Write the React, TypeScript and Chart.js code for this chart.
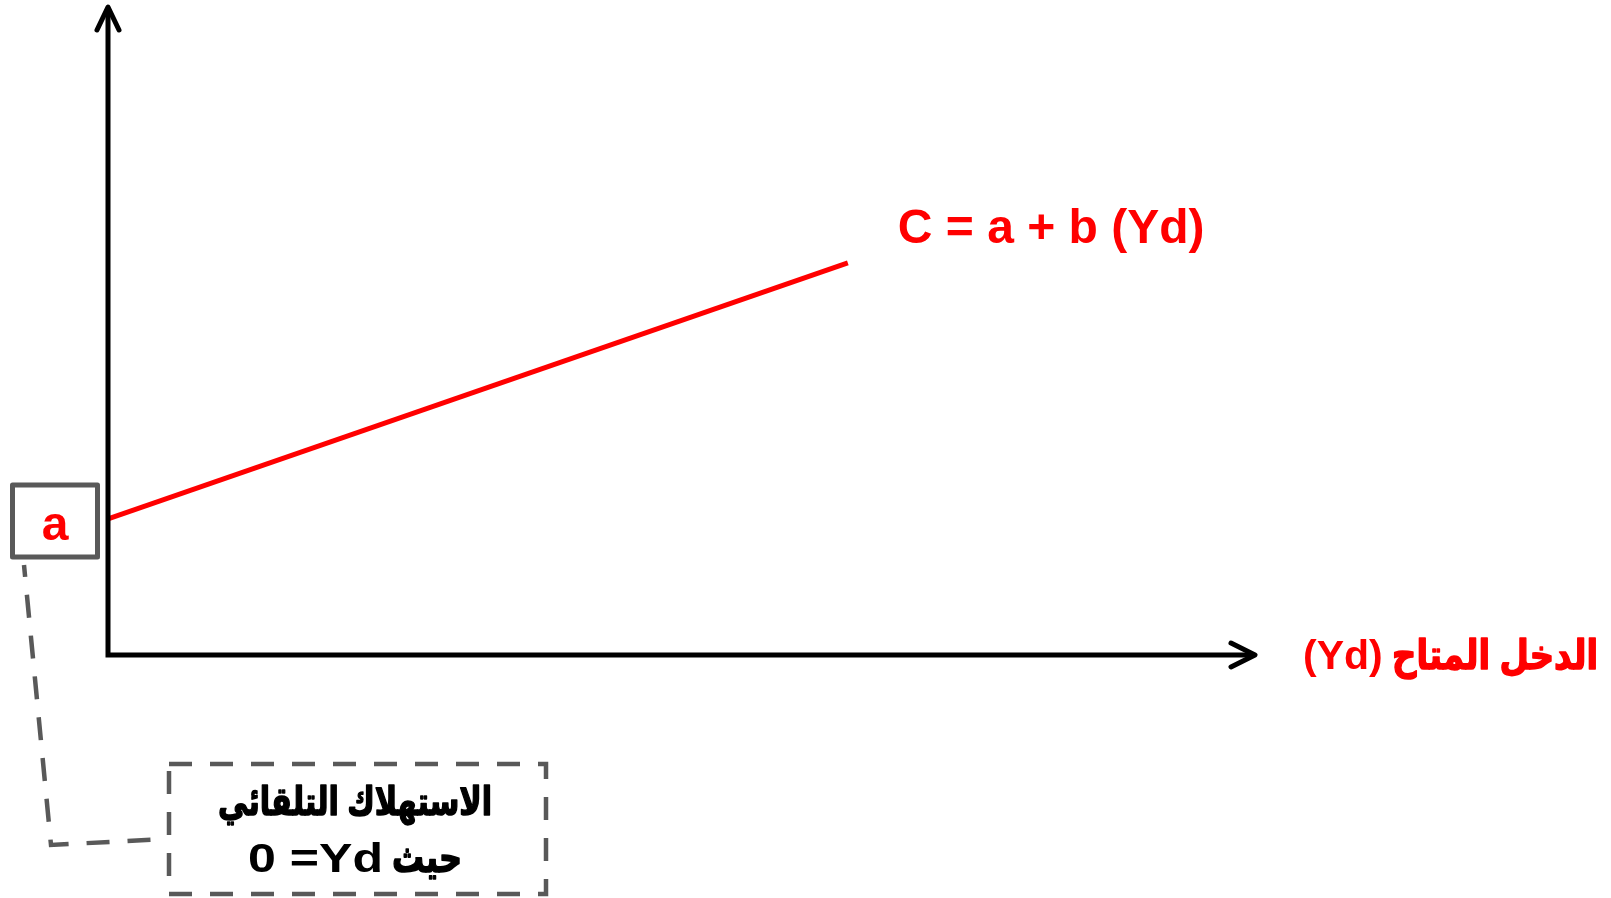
import React, { useEffect, useRef } from "react";
import { Chart, registerables } from "chart.js";

Chart.register(...registerables);

// Consumption function C = a + b(Yd): two end points of the line
const incomeYd = [0, 64.5];
const consumption = [21, 60.5];

const formulaLabel = "C = a + b (Yd)";
const xAxisTitle = "الدخل المتاح";
const xAxisSymbol = "(Yd)";
const interceptLabel = "a";
const noteTitle = "الاستهلاك التلقائي";
const noteWord = "حيث";
const noteCondition = "0 =Yd";

const FONT = "'Liberation Sans', Arial, 'DejaVu Sans', sans-serif";
const RED = "#ff0000";
const GREY = "#595959";

// draws text stretched or squeezed horizontally to span [x0, x1];
// an optional outline of the same colour makes the glyphs heavier
function fitText(
  ctx: CanvasRenderingContext2D,
  text: string,
  x0: number,
  x1: number,
  baseline: number,
  heavy = 0
) {
  const w = ctx.measureText(text).width;
  const sx = (x1 - x0) / w;
  ctx.save();
  ctx.textAlign = "left";
  ctx.translate(x0, baseline);
  ctx.scale(sx, 1);
  ctx.fillText(text, 0, 0);
  if (heavy > 0) {
    ctx.strokeStyle = ctx.fillStyle as string;
    ctx.lineWidth = heavy;
    ctx.lineJoin = "round";
    ctx.setLineDash([]);
    ctx.strokeText(text, 0, 0);
  }
  ctx.restore();
}

const annotations = {
  id: "consumptionAnnotations",
  afterDraw(chart: any) {
    const { ctx, chartArea, scales } = chart;
    const xs = scales.x;
    const ys = scales.y;
    const ox = xs.getPixelForValue(0);
    const oy = ys.getPixelForValue(0);
    const xTip = chartArea.right;
    const yTip = chartArea.top;

    ctx.save();

    // axes
    ctx.strokeStyle = "#000";
    ctx.lineWidth = 5;
    ctx.lineJoin = "miter";
    ctx.lineCap = "butt";
    ctx.beginPath();
    ctx.moveTo(ox, yTip + 2);
    ctx.lineTo(ox, oy);
    ctx.lineTo(xTip - 2, oy);
    ctx.stroke();

    // arrow heads
    ctx.lineCap = "round";
    ctx.lineJoin = "round";
    ctx.beginPath();
    ctx.moveTo(ox - 11, yTip + 23);
    ctx.lineTo(ox, yTip);
    ctx.lineTo(ox + 11, yTip + 23);
    ctx.moveTo(xTip - 24, oy - 12);
    ctx.lineTo(xTip, oy);
    ctx.lineTo(xTip - 24, oy + 12);
    ctx.stroke();

    // formula next to the end of the line
    const endX = xs.getPixelForValue(incomeYd[1]);
    const endY = ys.getPixelForValue(consumption[1]);
    ctx.fillStyle = RED;
    ctx.font = `bold 48px ${FONT}`;
    ctx.textAlign = "left";
    ctx.textBaseline = "alphabetic";
    ctx.fillText(formulaLabel, endX + 50, endY - 20);

    // x axis title
    ctx.font = `bold 41px ${FONT}`;
    ctx.fillText(xAxisSymbol, 1303, oy + 14);
    ctx.font = `bold 41px ${FONT}`;
    fitText(ctx, xAxisTitle, 1392, 1598, oy + 14, 1.6);

    // intercept box "a"
    const ay = ys.getPixelForValue(consumption[0]);
    const bx0 = 12.5, bx1 = 97.5, by0 = ay - 34, by1 = ay + 38;
    ctx.strokeStyle = GREY;
    ctx.lineWidth = 5;
    ctx.lineJoin = "round";
    ctx.beginPath();
    ctx.rect(bx0, by0, bx1 - bx0, by1 - by0);
    ctx.stroke();
    ctx.fillStyle = RED;
    ctx.font = `bold 48px ${FONT}`;
    ctx.textAlign = "center";
    ctx.fillText(interceptLabel, (bx0 + bx1) / 2, ay + 21);

    // dashed callout box
    const nx0 = 169, nx1 = 546, ny0 = 764, ny1 = 894;
    ctx.strokeStyle = GREY;
    ctx.lineWidth = 4.5;
    ctx.lineCap = "butt";
    ctx.lineJoin = "miter";
    ctx.setLineDash([23, 18]);
    ctx.beginPath();
    ctx.rect(nx0, ny0, nx1 - nx0, ny1 - ny0);
    ctx.stroke();

    // dashed connector from the "a" box to the callout
    ctx.lineDashOffset = 11;
    ctx.beginPath();
    ctx.moveTo(24, by1 + 8);
    ctx.lineTo(51, 845);
    ctx.lineTo(165, 839);
    ctx.stroke();
    ctx.setLineDash([]);
    ctx.lineDashOffset = 0;

    // callout text
    ctx.fillStyle = "#000";
    ctx.font = `bold 39px ${FONT}`;
    fitText(ctx, noteTitle, 218, 492, 815, 1.6);
    ctx.font = `bold 40px ${FONT}`;
    fitText(ctx, noteCondition, 248, 383, 872);
    ctx.font = `bold 42px ${FONT}`;
    fitText(ctx, noteWord, 392, 462, 872, 1.6);

    ctx.restore();
  },
};

export default function App() {
  const canvasRef = useRef<HTMLCanvasElement | null>(null);

  useEffect(() => {
    if (!canvasRef.current) return;
    const chart = new Chart(canvasRef.current, {
      type: "line",
      data: {
        datasets: [
          {
            label: formulaLabel,
            data: incomeYd.map((v, i) => ({ x: v, y: consumption[i] })),
            borderColor: RED,
            borderWidth: 5,
            pointRadius: 0,
            tension: 0,
            fill: false,
          },
        ],
      },
      options: {
        animation: false,
        responsive: true,
        maintainAspectRatio: false,
        layout: { padding: { left: 108, right: 356, top: 7, bottom: 243 } },
        plugins: { legend: { display: false }, tooltip: { enabled: false } },
        scales: {
          x: { type: "linear", min: 0, max: 100, display: false },
          y: { type: "linear", min: 0, max: 100, display: false },
        },
      },
      plugins: [annotations],
    });
    return () => chart.destroy();
  }, []);

  return (
    <div
      style={{
        position: "fixed",
        left: 0,
        top: 0,
        width: 1611,
        height: 898,
        background: "#fff",
      }}
    >
      <canvas ref={canvasRef} />
    </div>
  );
}
